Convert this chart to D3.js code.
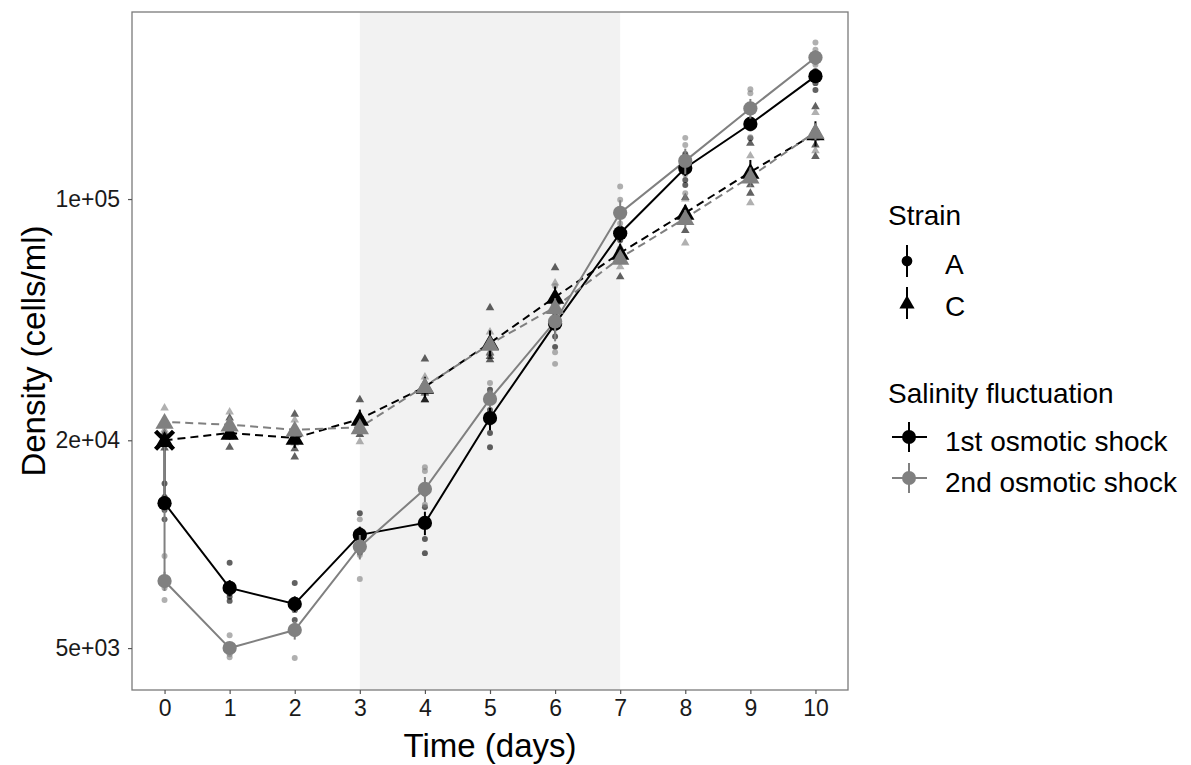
<!DOCTYPE html>
<html><head><meta charset="utf-8">
<script src="https://cdn.jsdelivr.net/npm/d3@7"></script>
<style>body{margin:0;background:#fff}svg{display:block}text{font-family:"Liberation Sans",Arial,sans-serif}</style>
</head><body>
<svg id="c" width="1191" height="765"></svg>
<script>
const times = [0,1,2,3,4,5,6,7,8,9,10];
const xTicks = [0,1,2,3,4,5,6,7,8,9,10];
const yTicks = [5000, 20000, 100000];
const yTickLabels = ["5e+03","2e+04","1e+05"];
const initialDensity = 20000;
const shadeRange = [3, 7];
const strains = ["A","C"];
const salinity = ["1st osmotic shock","2nd osmotic shock"];

const meanA1 = [13150, 7470, 6710, 10640, 11520, 23200, 43500, 79600, 123000, 165000, 227000];
const meanA2 = [7820, 5000, 5640, 9830, 14450, 26350, 44200, 91200, 129000, 183000, 257000];
const meanC1 = [20000, 21000, 20300, 23050, 28550, 38300, 52000, 69800, 91200, 119800, 155000];
const meanC2 = [22600, 22200, 21450, 21800, 28700, 38000, 48600, 67500, 88000, 116000, 156500];

const seA1 = [600, 400, 350, 600, 900, 1800, 3000, 4500, 6500, 6500, 9500];
const seA2 = [500, 150, 350, 800, 1200, 1500, 5500, 8000, 11000, 12000, 13000];
const seC1 = [400, 900, 1300, 1500, 2000, 3300, 3800, 4500, 5000, 10000, 13000];
const seC2 = [900, 700, 900, 800, 700, 1300, 3000, 2500, 5000, 7500, 8500];

const repA1 = [[15000,13700,12560,11800],[8840,7200,7040,6850],[7720,6890,6440,6030],[12300,11000,9800,9450],[14000,12800,10350,9420],[28000,24500,21000,19100],[50000,47000,40000,37300],[90000,82000,76000,70500],[135000,133000,113600,109900],[180000,170000,160000,150000],[250000,235000,216700,207000]];
const repA2 = [[9240,7800,7460,6890],[5450,5100,4800,4700],[6440,5800,5600,4680],[11800,10300,9300,7925],[16700,16300,13000,11800],[29300,27500,26000,22500],[56000,52000,36000,33300],[108700,99500,85000,72000],[150400,143500,118000,104000],[208000,202600,170000,151000],[284000,270600,245000,228000]];
const repC1 = [[21000,20000,19000],[23200,20450,19100],[23800,20600,18900,17900],[26200,22500,20800],[34400,27400,26200,26200],[48400,35800,35000,34200],[63200,50000,48600,46150],[78000,72000,59500],[101000,91700,81000],[145000,110000,104000],[185000,160000,143500,132800]];
const repC2 = [[24800,22600,21400],[24150,22150,21400],[22900,21850,19650],[23500,22000,21700,19800],[30500,28900,28000,27400],[41200,38500,36000],[57100,48600,46000,43000],[72000,67000,63600],[100000,90000,87000,74600],[133400,117000,97500],[178000,160000,150000,138000]];

const groups = [
  {strain:"A", sal:0, mean:meanA1, se:seA1, reps:repA1},
  {strain:"C", sal:0, mean:meanC1, se:seC1, reps:repC1},
  {strain:"A", sal:1, mean:meanA2, se:seA2, reps:repA2},
  {strain:"C", sal:1, mean:meanC2, se:seC2, reps:repC2}
];
const salColor = ["#000000", "#808080"];
const strainShape = {A: d3.symbolCircle, C: d3.symbolTriangle};
const strainDash = {A: null, C: "8,5"};

const svg = d3.select("#c");
const L = 132, R = 848, T = 12, B = 690;
const x = d3.scaleLinear().domain([-0.5, 10.5]).range([L, R]);
const y = d3.scaleLog().domain([3780, 348300]).range([B, T]);

svg.append("rect").attr("x", x(shadeRange[0])).attr("y", T)
  .attr("width", x(shadeRange[1]) - x(shadeRange[0])).attr("height", B - T)
  .attr("fill", "#f2f2f2");

const plot = svg.append("g");

groups.forEach(g => {
  const sym = d3.symbol().type(strainShape[g.strain]).size(g.strain === "A" ? 28 : 32);
  g.reps.forEach((vals, i) => {
    vals.forEach(v => {
      plot.append("path").attr("d", sym())
        .attr("transform", `translate(${x(times[i])},${y(v)})`)
        .attr("fill", salColor[g.sal]).attr("fill-opacity", 0.62);
    });
  });
});

const line = d3.line().x(d => x(d[0])).y(d => y(d[1]));
groups.forEach(g => {
  const pts = [[0, initialDensity]].concat(times.map((t, i) => [t, g.mean[i]]));
  plot.append("path").attr("d", line(pts)).attr("fill", "none")
    .attr("stroke", salColor[g.sal]).attr("stroke-width", 2)
    .attr("stroke-dasharray", strainDash[g.strain]);
});

groups.forEach(g => {
  const sym = d3.symbol().type(strainShape[g.strain]).size(g.strain === "A" ? 160 : 145);
  times.forEach((t, i) => {
    plot.append("line").attr("x1", x(t)).attr("x2", x(t))
      .attr("y1", y(g.mean[i] - g.se[i])).attr("y2", y(g.mean[i] + g.se[i]))
      .attr("stroke", salColor[g.sal]).attr("stroke-width", 2);
  });
  times.forEach((t, i) => {
    plot.append("path").attr("d", sym())
      .attr("transform", `translate(${x(t)},${y(g.mean[i]) + (g.strain === "C" ? 1.5 : 0)})`)
      .attr("fill", salColor[g.sal]);
  });
});

const cx = x(0), cy = y(initialDensity);
plot.append("path").attr("d", `M${cx-9},${cy-9}L${cx+9},${cy+9}M${cx-9},${cy+9}L${cx+9},${cy-9}`)
  .attr("stroke", "#000").attr("stroke-width", 4.5).attr("fill", "none");

svg.append("rect").attr("x", L).attr("y", T).attr("width", R - L).attr("height", B - T)
  .attr("fill", "none").attr("stroke", "#7a7a7a").attr("stroke-width", 1.3);

const xAxis = d3.axisBottom(x).tickValues(xTicks).tickSize(4).tickPadding(6);
const gx = svg.append("g").attr("transform", `translate(0,${B})`).call(xAxis);
gx.select(".domain").remove();
gx.selectAll(".tick line").attr("stroke", "#555").attr("stroke-width", 1.2);
gx.selectAll(".tick text").attr("font-size", 23).attr("fill", "#1a1a1a")
  .attr("font-family", "Liberation Sans, Arial, sans-serif").attr("dy", "0.71em");

const yAxis = d3.axisLeft(y).tickValues(yTicks).tickFormat((d, i) => yTickLabels[i]).tickSize(4).tickPadding(8);
const gy = svg.append("g").attr("transform", `translate(${L},0)`).call(yAxis);
gy.select(".domain").remove();
gy.selectAll(".tick line").attr("stroke", "#555").attr("stroke-width", 1.2);
gy.selectAll(".tick text").attr("font-size", 23).attr("fill", "#1a1a1a")
  .attr("font-family", "Liberation Sans, Arial, sans-serif");

svg.append("text").attr("x", (L + R) / 2).attr("y", 757).attr("text-anchor", "middle")
  .attr("font-size", 33).attr("fill", "#000").text("Time (days)");
svg.append("text").attr("transform", `translate(45,${(T + B) / 2}) rotate(-90)`)
  .attr("text-anchor", "middle").attr("font-size", 33).attr("fill", "#000").text("Density (cells/ml)");

const lg = svg.append("g");
lg.append("text").attr("x", 888).attr("y", 225).attr("font-size", 28).text("Strain");
const strainKeyY = [261, 303];
strains.forEach((s, i) => {
  const ky = strainKeyY[i];
  lg.append("line").attr("x1", 907).attr("x2", 907).attr("y1", ky - 16).attr("y2", ky + 16)
    .attr("stroke", "#000").attr("stroke-width", 2);
  lg.append("path").attr("d", d3.symbol().type(strainShape[s]).size(s === "A" ? 90 : 100)())
    .attr("transform", `translate(907,${ky + (s === "C" ? 1 : 0)})`).attr("fill", "#000");
  lg.append("text").attr("x", 945).attr("y", ky + 13).attr("font-size", 28).text(s);
});
lg.append("text").attr("x", 888).attr("y", 403).attr("font-size", 28).text("Salinity fluctuation");
const salKeyY = [437, 478];
salinity.forEach((s, i) => {
  const ky = salKeyY[i];
  lg.append("line").attr("x1", 892).attr("x2", 927).attr("y1", ky).attr("y2", ky)
    .attr("stroke", salColor[i]).attr("stroke-width", 2);
  lg.append("line").attr("x1", 909).attr("x2", 909).attr("y1", ky - 15).attr("y2", ky + 15)
    .attr("stroke", salColor[i]).attr("stroke-width", 2);
  lg.append("circle").attr("cx", 909).attr("cy", ky).attr("r", 7).attr("fill", salColor[i]);
  lg.append("text").attr("x", 945).attr("y", ky + 14).attr("font-size", 28).text(s);
});
</script>
</body></html>
